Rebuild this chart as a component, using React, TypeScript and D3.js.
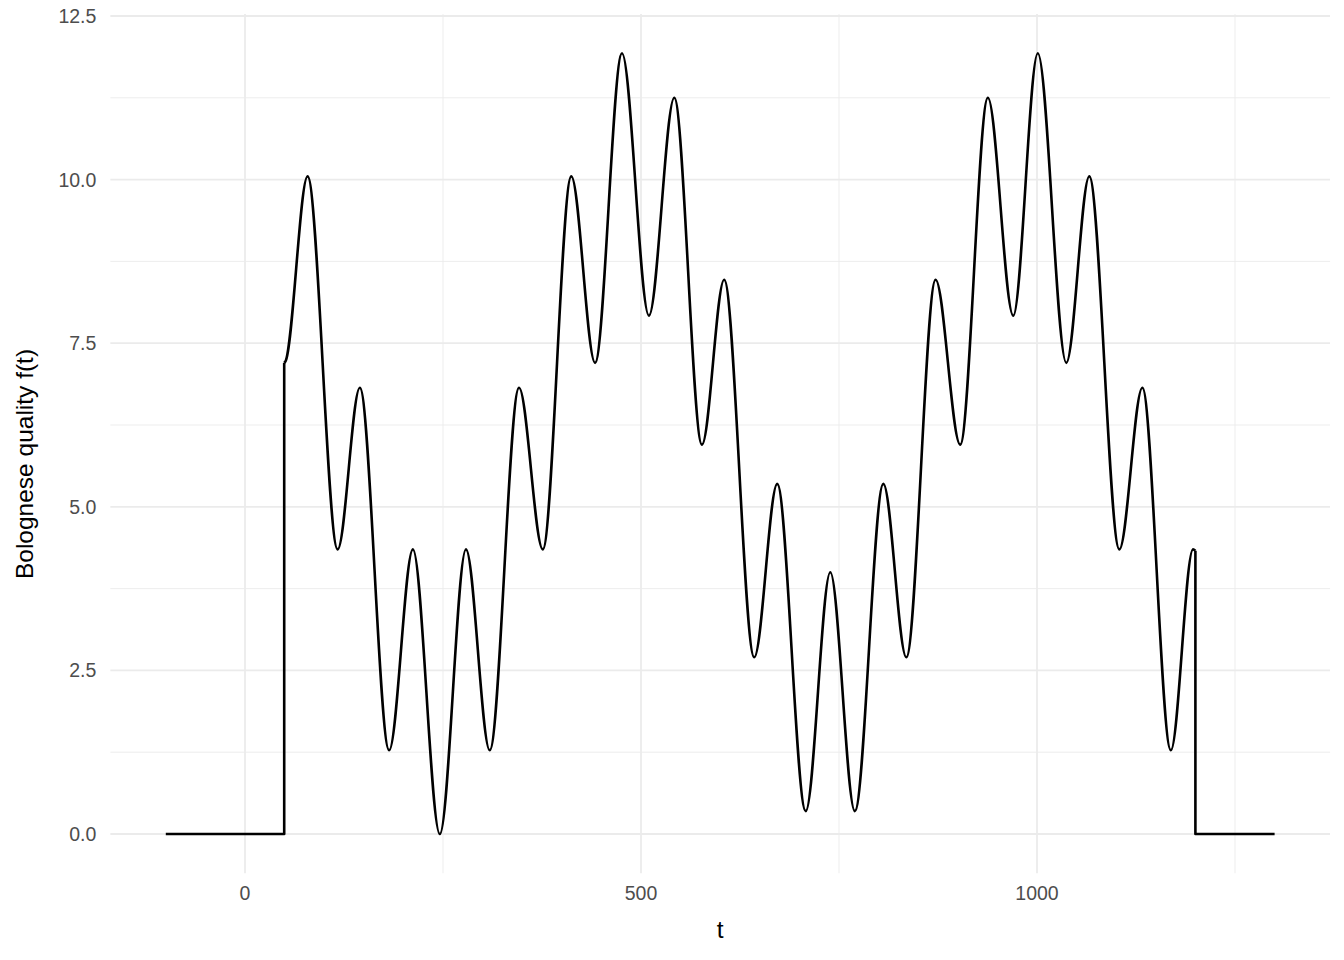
import React from "react";
import * as d3 from "d3";

// Flat segments and jumps
const leftT = [-100, 49.5, 49.5];
const leftF = [0, 0, 7.2];
const rightT = [1200, 1200, 1300];
const rightF = [4.33, 0, 0];

// Smooth part: local extrema
const curveT = [49.5, 51, 79, 117, 145, 182, 212, 246, 279, 309, 346, 376, 412, 442, 476, 510, 542, 577, 605, 643, 672, 708, 739, 770, 806, 835, 872, 903, 938, 970, 1001, 1037, 1066, 1104, 1133, 1169, 1197, 1200];
const curveF = [7.2, 7.22, 10.05, 4.35, 6.82, 1.28, 4.35, 0.0, 4.35, 1.28, 6.82, 4.35, 10.05, 7.2, 11.93, 7.92, 11.25, 5.95, 8.47, 2.7, 5.35, 0.35, 4.0, 0.35, 5.35, 2.7, 8.47, 5.95, 11.25, 7.92, 11.93, 7.2, 10.05, 4.35, 6.82, 1.28, 4.35, 4.33];

const xMajor = [0, 500, 1000];
const xMinor = [-250, 250, 750, 1250];
const yMajor = [0, 2.5, 5, 7.5, 10, 12.5];
const yMinor = [1.25, 3.75, 6.25, 8.75, 11.25];

export default function App() {
  const W = 1344, H = 960;
  const x = d3.scaleLinear().domain([0, 1000]).range([245, 1037]);
  const y = d3.scaleLinear().domain([0, 12.5]).range([834, 16]);
  const panel = { left: x(-170), right: x(1370), top: y(12.53), bottom: y(-0.6) };

  const lin = d3.line<[number, number]>().x(d => x(d[0])).y(d => y(d[1]));
  const smooth = d3.line<[number, number]>().x(d => x(d[0])).y(d => y(d[1])).curve(d3.curveMonotoneX);
  const zip = (a: number[], b: number[]) => a.map((v, i) => [v, b[i]] as [number, number]);

  const grid = "#EBEBEB";
  const tickColor = "#4D4D4D";
  const font = "'Liberation Sans', Arial, sans-serif";

  return (
    <svg width={W} height={H} style={{ position: "absolute", left: 0, top: 0, background: "#fff" }}>
      <rect width={W} height={H} fill="#fff" />
      {yMinor.map(v => (
        <line key={"ym" + v} x1={panel.left} x2={panel.right} y1={y(v)} y2={y(v)} stroke={grid} strokeWidth={0.9} />
      ))}
      {xMinor.filter(v => x(v) > panel.left).map(v => (
        <line key={"xm" + v} x1={x(v)} x2={x(v)} y1={panel.top} y2={panel.bottom} stroke={grid} strokeWidth={0.9} />
      ))}
      {yMajor.map(v => (
        <line key={"yM" + v} x1={panel.left} x2={panel.right} y1={y(v)} y2={y(v)} stroke={grid} strokeWidth={1.8} />
      ))}
      {xMajor.map(v => (
        <line key={"xM" + v} x1={x(v)} x2={x(v)} y1={panel.top} y2={panel.bottom} stroke={grid} strokeWidth={1.8} />
      ))}
      <g fill="none" stroke="#000" strokeWidth={2.6} strokeLinejoin="round" strokeLinecap="butt">
        <path d={lin(zip(leftT, leftF)) || ""} />
        <path d={smooth(zip(curveT, curveF)) || ""} />
        <path d={lin(zip(rightT, rightF)) || ""} />
      </g>
      {yMajor.map(v => (
        <text key={"yl" + v} x={panel.left - 14} y={y(v)} dy="0.36em" textAnchor="end" fontFamily={font} fontSize={19.5} fill={tickColor}>
          {d3.format(".1f")(v)}
        </text>
      ))}
      {xMajor.map(v => (
        <text key={"xl" + v} x={x(v)} y={900} textAnchor="middle" fontFamily={font} fontSize={19.5} fill={tickColor}>
          {v}
        </text>
      ))}
      <text x={(panel.left + panel.right) / 2} y={938} textAnchor="middle" fontFamily={font} fontSize={24.5} fill="#000">t</text>
      <text transform={`translate(33, 464) rotate(-90)`} textAnchor="middle" fontFamily={font} fontSize={24.5} fill="#000">
        Bolognese quality f(t)
      </text>
    </svg>
  );
}
